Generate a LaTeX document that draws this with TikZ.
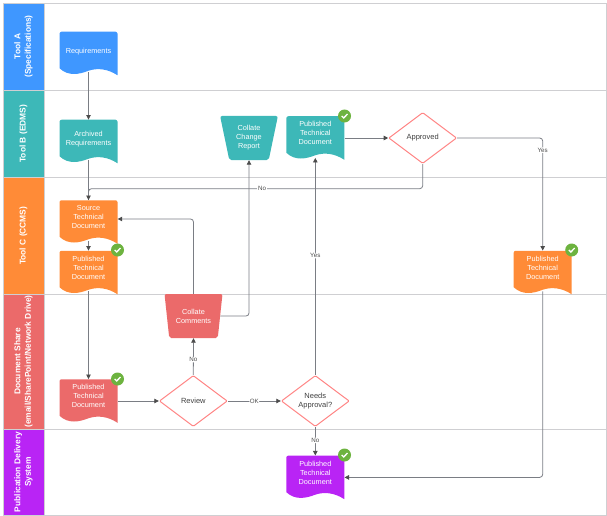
\documentclass[tikz,border=0pt]{standalone}
\usepackage{fontspec}
\setmainfont{Liberation Sans}
\usetikzlibrary{shapes.geometric,arrows.meta}
\definecolor{toolblue}{HTML}{3F97FF}
\definecolor{toolteal}{HTML}{3DB8B8}
\definecolor{toolorange}{HTML}{FF8B37}
\definecolor{toolred}{HTML}{EB6A6A}
\definecolor{toolpurple}{HTML}{B924F5}
\definecolor{okgreen}{HTML}{6DB33F}
\definecolor{lanegrey}{HTML}{CFCFD2}
\definecolor{linkgrey}{HTML}{7A7D84}
\definecolor{choicered}{HTML}{FF8585}
\tikzset{
  lanehead/.style={draw=lanegrey, line width=0.8pt, fill=#1, rotate=90, minimum height=41pt, inner sep=0pt, align=center, text=white, font=\fontsize{8.4}{10.6}\selectfont\bfseries},
  docbox/.style={rectangle, minimum width=58pt, minimum height=43.5pt, inner sep=0pt, text depth=10pt, align=center, text=white, font=\fontsize{7.3}{9}\selectfont,
    path picture={\coordinate (m) at (path picture bounding box.center);
      \fill[#1, rounded corners=2pt] ([shift={(-29pt,-14.75pt)}]m) -- ([shift={(-29pt,21.75pt)}]m) -- ([shift={(29pt,21.75pt)}]m) -- ([shift={(29pt,0pt)}]m) [sharp corners] -- ([shift={(29pt,-21.75pt)}]m) .. controls ([shift={(19pt,-15.25pt)}]m) and ([shift={(9pt,-14.25pt)}]m) .. ([shift={(0pt,-17.25pt)}]m) .. controls ([shift={(-9pt,-20.75pt)}]m) and ([shift={(-20pt,-23.25pt)}]m) .. ([shift={(-29pt,-14.75pt)}]m) -- cycle;}},
  trapbox/.style={trapezium, shape border rotate=180, trapezium left angle=76.5, trapezium right angle=76.5, trapezium stretches=true, minimum width=58pt, minimum height=44pt, inner sep=0pt, rounded corners=2pt, fill=#1, align=center, text=white, font=\fontsize{7.3}{9}\selectfont},
  decision/.style={diamond, draw=choicered, line width=1pt, fill=white, minimum width=68pt, minimum height=51pt, inner sep=0pt, rounded corners=1pt, align=center, text=black!75, font=\fontsize{7.5}{9}\selectfont},
  okbadge/.style={circle, fill=okgreen, minimum size=13pt, inner sep=0pt,
    path picture={\draw[white, line width=1.3pt] ([shift={(-2.8pt,0pt)}]path picture bounding box.center) -- ([shift={(-0.8pt,-2pt)}]path picture bounding box.center) -- ([shift={(3pt,2pt)}]path picture bounding box.center);}},
  link/.style={draw=linkgrey, line width=0.8pt, rounded corners=3pt, -{Triangle[length=4.5pt,width=4.5pt,color=black!70]}},
  plainlink/.style={draw=linkgrey, line width=0.8pt, rounded corners=3pt},
  linklabel/.style={fill=white, inner sep=0.6pt, text=black!70, font=\fontsize{6.2}{7}\selectfont},
}
\begin{document}
\begin{tikzpicture}[x=1pt, y=-1pt]
\useasboundingbox (0,0) rectangle (607,516);
\draw[lanegrey, line width=0.8pt] (44,3) rectangle (606.5,515);
\draw[lanegrey, line width=0.8pt] (44,90) -- (606.5,90);
\draw[lanegrey, line width=0.8pt] (44,177.5) -- (606.5,177.5);
\draw[lanegrey, line width=0.8pt] (44,294) -- (606.5,294);
\draw[lanegrey, line width=0.8pt] (44,429) -- (606.5,429);

\node[lanehead=toolblue, minimum width=87pt] (laneA) at (23.5,46.5) {Tool A\\(Specifications)};
\node[lanehead=toolteal, minimum width=87.5pt] (laneB) at (23.5,133.75) {Tool B (EDMS)};
\node[lanehead=toolorange, minimum width=116.5pt] (laneC) at (23.5,235.75) {Tool C (CCMS)};
\node[lanehead=toolred, minimum width=135pt] (laneD) at (23.5,361.5) {Document Share\\(email/SharePoint/Network Drive)};
\node[lanehead=toolpurple, minimum width=86pt] (laneE) at (23.5,472) {Publication Delivery\\System};

\node[docbox=toolblue, text depth=5pt] (req) at (88.5,53.5) {Requirements};
\node[docbox=toolteal, text depth=7pt] (archived) at (88.5,141.5) {Archived\\Requirements};
\node[docbox=toolorange] (source) at (88.5,222) {Source\\Technical\\Document};
\node[docbox=toolorange] (pubC) at (88.5,272.5) {Published\\Technical\\Document};
\node[docbox=toolred] (pubD) at (88.5,401) {Published\\Technical\\Document};
\node[docbox=toolteal] (pubB) at (315.3,138) {Published\\Technical\\Document};
\node[docbox=toolorange] (pubF) at (542.7,272.5) {Published\\Technical\\Document};
\node[docbox=toolpurple] (pubE) at (315.3,477.4) {Published\\Technical\\Document};

\node[trapbox=toolteal] (change) at (249,138) {Collate\\Change\\Report};
\node[trapbox=toolred] (comments) at (193.5,316) {Collate\\Comments};

\node[decision] (approved) at (422.7,138) {Approved};
\node[decision] (review) at (193.3,401) {Review};
\node[decision] (needs) at (315.3,401) {Needs\\Approval?};

\node[okbadge] (okC) at (117.5,250) {};
\node[okbadge] (okD) at (117.5,379) {};
\node[okbadge] (okB) at (344.5,116) {};
\node[okbadge] (okF) at (571.7,250) {};
\node[okbadge] (okE) at (344.5,455) {};

\coordinate (nobend) at (262,188.7);

\draw[link] ([yshift=3pt]req.south) -- (archived.north);
\draw[plainlink] ([yshift=3pt]archived.south) -- (source.north);
\draw[link] (approved.south) |- (nobend) -| (source.north);
\node[linklabel] (noA) at (nobend) {No};
\draw[link] ([yshift=3pt]source.south) -- (pubC.north);
\draw[link] ([yshift=3pt]pubC.south) -- (pubD.north);
\draw[link] (pubD.east) -- (review.west);
\draw[link] (review.east) -- node[linklabel] (okL) {OK} (needs.west);
\draw[link] (review.north) -- node[linklabel, pos=0.42] (noB) {No} (comments.south);
\draw[link] (comments.north) |- ([yshift=3pt]source.east);
\draw[link] (comments.east) -| (change.south);
\draw[link] (needs.north) -- node[linklabel, pos=0.55] (yesA) {Yes} ([yshift=2pt]pubB.south);
\draw[link] (pubB.east) -- (approved.west);
\draw[link] (approved.east) -| node[linklabel, pos=0.554] (yesB) {Yes} (pubF.north);
\draw[link] (needs.south) -- node[linklabel, pos=0.47] (noC) {No} (pubE.north);
\draw[link] ([yshift=3pt]pubF.south) |- (pubE.east);
\end{tikzpicture}
\end{document}
